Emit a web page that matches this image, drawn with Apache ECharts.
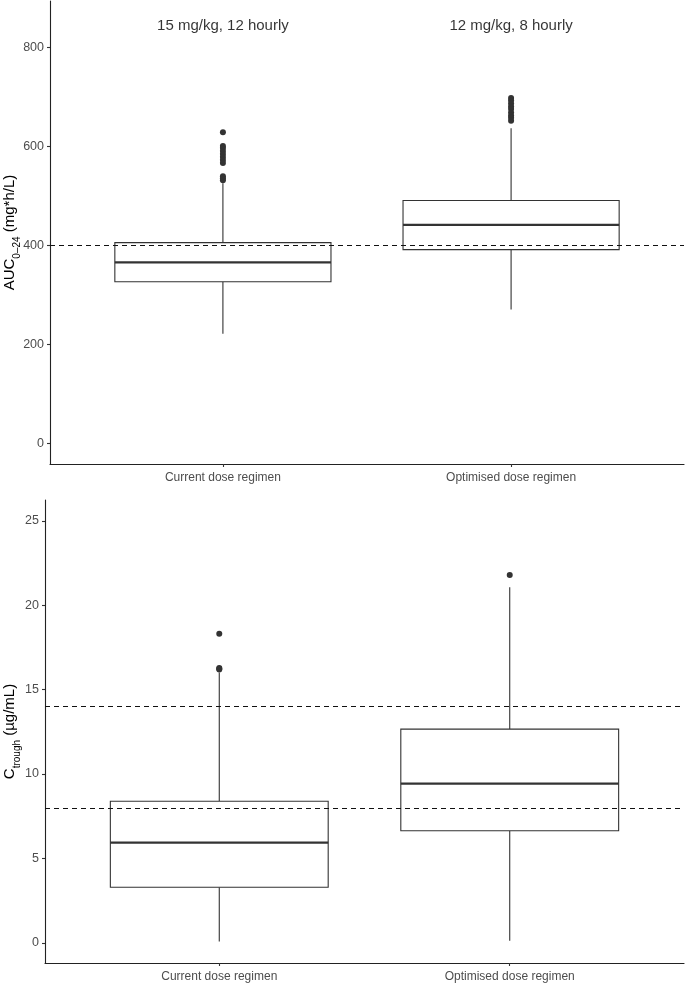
<!DOCTYPE html>
<html>
<head>
<meta charset="utf-8">
<script src="https://cdn.jsdelivr.net/npm/echarts@6/dist/echarts.min.js"></script>
<style>
html,body{margin:0;padding:0;background:#fff;}
#chart{width:685px;height:984px;}
</style>
</head>
<body>
<div id="chart"></div>
<script>
// ---------- data ----------
const categories = ['Current dose regimen', 'Optimised dose regimen'];
const categoryPositions = [1, 2];

// [position, lower whisker, Q1, median, Q3, upper whisker]
const aucStats = [
  [1, 221, 326, 365, 405, 525],
  [2, 270, 391, 441, 490, 636]
];
const aucOutliers = [
  [1, 628], [1, 600], [1, 596], [1, 590], [1, 584], [1, 578], [1, 572], [1, 566],
  [1, 539], [1, 535], [1, 531],
  [2, 697], [2, 692], [2, 686], [2, 680], [2, 675], [2, 668], [2, 662], [2, 657], [2, 651]
];
const aucTarget = [400];
const aucTicks = [0, 200, 400, 600, 800];
const regimenLabels = ['15 mg/kg, 12 hourly', '12 mg/kg, 8 hourly'];
const regimenLabelY = 842;

const troughStats = [
  [1, 0.07, 3.29, 5.93, 8.39, 16.01],
  [2, 0.12, 6.64, 9.43, 12.66, 21.07]
];
const troughOutliers = [
  [1, 18.32], [1, 16.29], [1, 16.24], [1, 16.19],
  [2, 21.8]
];
const troughTargets = [8, 14];
const troughTicks = [0, 5, 10, 15, 20, 25];

// ---------- chart ----------
const FONT = '"Liberation Sans", Arial, sans-serif';
const chart = echarts.init(document.getElementById('chart'), null, {renderer: 'canvas'});

function renderBox(params, api) {
  const x = api.value(0);
  const w = api.size([0.75, 0])[0];
  const pLow = api.coord([x, api.value(1)]);
  const pQ1 = api.coord([x, api.value(2)]);
  const pMed = api.coord([x, api.value(3)]);
  const pQ3 = api.coord([x, api.value(4)]);
  const pHigh = api.coord([x, api.value(5)]);
  const cx = pMed[0];
  const stroke = '#333333';
  return {
    type: 'group',
    children: [
      {type: 'line', shape: {x1: cx, y1: pQ3[1], x2: cx, y2: pHigh[1]}, style: {stroke, lineWidth: 1.1}},
      {type: 'line', shape: {x1: cx, y1: pQ1[1], x2: cx, y2: pLow[1]}, style: {stroke, lineWidth: 1.1}},
      {type: 'rect', shape: {x: cx - w / 2, y: pQ3[1], width: w, height: pQ1[1] - pQ3[1]},
        style: {fill: '#ffffff', stroke, lineWidth: 1.1}},
      {type: 'line', shape: {x1: cx - w / 2, y1: pMed[1], x2: cx + w / 2, y2: pMed[1]},
        style: {stroke, lineWidth: 2.3}}
    ]
  };
}

function xAxisFor(gridIndex) {
  return {
    type: 'value', gridIndex, min: 0.4, max: 2.6,
    axisLine: {show: true, onZero: false, lineStyle: {color: '#222', width: 1.1}},
    axisTick: {show: true, length: 3, customValues: categoryPositions, lineStyle: {color: '#333', width: 1.1}},
    axisLabel: {
      show: true, customValues: categoryPositions, margin: 8,
      color: '#4d4d4d', fontSize: 12, fontFamily: FONT,
      formatter: v => categories[Math.round(v) - 1] || ''
    },
    splitLine: {show: false}
  };
}

function yAxisFor(gridIndex, min, max, ticks, name, gap) {
  return {
    type: 'value', gridIndex, min, max,
    axisLine: {show: true, onZero: false, lineStyle: {color: '#222', width: 1.1}},
    axisTick: {show: true, length: 3, customValues: ticks, lineStyle: {color: '#333', width: 1.1}},
    axisLabel: {show: true, customValues: ticks, margin: 6, color: '#4d4d4d', fontSize: 12.5, fontFamily: FONT},
    splitLine: {show: false},
    name, nameLocation: 'middle', nameGap: gap, nameRotate: 90, nameMoveOverlap: false,
    nameTextStyle: {
      rich: {
        n: {fontSize: 15, fontFamily: FONT, color: '#000', lineHeight: 20, verticalAlign: 'top'},
        s: {fontSize: 10, fontFamily: FONT, color: '#000', lineHeight: 10, verticalAlign: 'bottom'}
      }
    }
  };
}

function dashedLines(values) {
  return {
    silent: true, symbol: ['none', 'none'], label: {show: false},
    lineStyle: {type: [5, 4], color: '#111', width: 1.2},
    emphasis: {disabled: true},
    data: values.map(v => ({yAxis: v}))
  };
}

const option = {
  animation: false,
  backgroundColor: '#ffffff',
  grid: [
    {left: 50, right: 1, top: 1, height: 463, containLabel: false, outerBoundsMode: 'none'},
    {left: 45, right: 1, top: 500, height: 463, containLabel: false, outerBoundsMode: 'none'}
  ],
  xAxis: [xAxisFor(0), xAxisFor(1)],
  yAxis: [
    yAxisFor(0, -42, 893, aucTicks, '{n|AUC}{s|0–24}{n| (mg*h/L)}', 28),
    yAxisFor(1, -1.2, 26.24, troughTicks, '{n|C}{s|trough}{n| (µg/mL)}', 23)
  ],
  series: [
    {
      type: 'scatter', xAxisIndex: 0, yAxisIndex: 0, symbolSize: 0, silent: true,
      data: aucTarget.map(v => [1, v]), itemStyle: {opacity: 0},
      markLine: dashedLines(aucTarget), z: 1
    },
    {
      type: 'custom', xAxisIndex: 0, yAxisIndex: 0, renderItem: renderBox,
      encode: {x: 0, y: [1, 2, 3, 4, 5]}, data: aucStats, z: 2
    },
    {
      type: 'scatter', xAxisIndex: 0, yAxisIndex: 0, symbol: 'circle', symbolSize: 6,
      itemStyle: {color: '#333333', opacity: 1}, data: aucOutliers, z: 3
    },
    {
      type: 'scatter', xAxisIndex: 0, yAxisIndex: 0, symbolSize: 0, silent: true,
      data: regimenLabels.map((t, i) => [categoryPositions[i], regimenLabelY, t]),
      label: {show: true, position: 'inside', formatter: p => p.value[2],
        color: '#000', fontSize: 15, fontFamily: FONT},
      z: 4
    },
    {
      type: 'scatter', xAxisIndex: 1, yAxisIndex: 1, symbolSize: 0, silent: true,
      data: troughTargets.map(v => [1, v]), itemStyle: {opacity: 0},
      markLine: dashedLines(troughTargets), z: 1
    },
    {
      type: 'custom', xAxisIndex: 1, yAxisIndex: 1, renderItem: renderBox,
      encode: {x: 0, y: [1, 2, 3, 4, 5]}, data: troughStats, z: 2
    },
    {
      type: 'scatter', xAxisIndex: 1, yAxisIndex: 1, symbol: 'circle', symbolSize: 6,
      itemStyle: {color: '#333333', opacity: 1}, data: troughOutliers, z: 3
    }
  ]
};
chart.setOption(option);
</script>
</body>
</html>
